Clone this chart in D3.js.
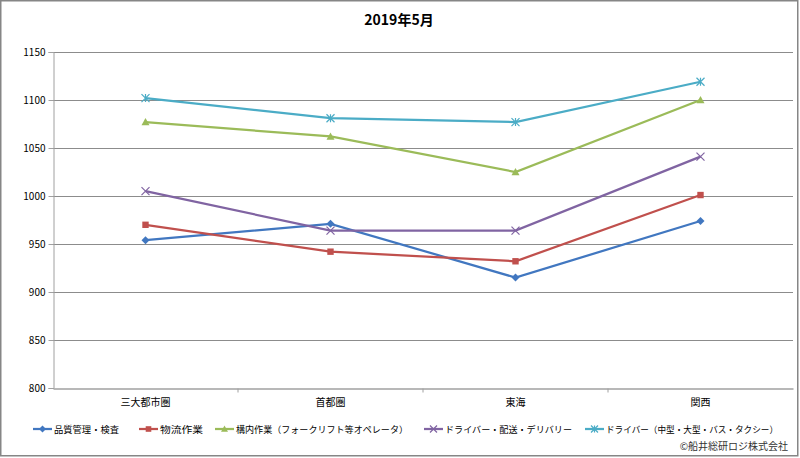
<!DOCTYPE html>
<html>
<head>
<meta charset="utf-8">
<script src="https://cdn.jsdelivr.net/npm/d3@7"></script>
<style>
  body { margin: 0; background: #fff; }
  svg { display: block; }
  text { font-family: "Noto Sans CJK JP", "DejaVu Sans", sans-serif; }
</style>
</head>
<body>
<script>
var w = 800;
var h = 458;

var title = "2019年5月";
var categories = ["三大都市圏", "首都圏", "東海", "関西"];
var seriesNames = ["品質管理・検査", "物流作業", "構内作業（フォークリフト等オペレータ）", "ドライバー・配送・デリバリー", "ドライバー（中型・大型・バス・タクシー）"];
var hinshitsu = [954, 971, 915, 974];
var butsuryu = [970, 942, 932, 1001];
var kounai = [1077, 1062, 1025, 1100];
var haiso = [1005, 964, 964, 1041];
var driver = [1102, 1081, 1077, 1119];
var yTicks = [800, 850, 900, 950, 1000, 1050, 1100, 1150];
var credit = "©船井総研ロジ株式会社";

var colors = ["#4177c0", "#c0504d", "#9bbb59", "#8064a2", "#4bacc6"];
var markers = ["diamond", "square", "triangle", "x", "star"];
var values = [hinshitsu, butsuryu, kounai, haiso, driver];

var margin = { left: 53, right: 7, top: 52, bottom: 70 };

var svg = d3.select("body")
  .append("svg")
  .attr("width", w)
  .attr("height", h);

// frame
svg.append("rect")
  .attr("x", 0.75).attr("y", 0.75)
  .attr("width", w - 3).attr("height", h - 3)
  .attr("fill", "#fff")
  .attr("stroke", "#868686")
  .attr("stroke-width", 1.5);

svg.append("text")
  .text(title)
  .attr("x", 399).attr("y", 25)
  .attr("text-anchor", "middle")
  .attr("font-size", "14px")
  .attr("font-weight", "bold")
  .attr("fill", "#000");

var x = d3.scaleBand()
  .domain(categories)
  .range([margin.left, w - margin.right])
  .padding(0);

var y = d3.scaleLinear()
  .domain([800, 1150])
  .range([388, 52]);

// gridlines
svg.append("g")
  .selectAll("line")
  .data(yTicks.slice(1))
  .enter()
  .append("line")
  .attr("x1", margin.left)
  .attr("x2", 793)
  .attr("y1", function(d) { return Math.round(y(d)) + 0.5; })
  .attr("y2", function(d) { return Math.round(y(d)) + 0.5; })
  .attr("stroke", "#8c8c8c")
  .attr("stroke-width", 1);

// y axis
var yAxis = svg.append("g")
  .attr("transform", "translate(" + (margin.left + 0.5) + ",0)")
  .call(d3.axisLeft(y).tickValues(yTicks).tickFormat(d3.format("d")).tickSize(5).tickPadding(3));
yAxis.select(".domain").attr("stroke", "#a0a0a0");
yAxis.selectAll(".tick line").attr("stroke", "#a0a0a0");
yAxis.selectAll("text")
  .attr("font-family", "Liberation Sans, Arial, sans-serif")
  .attr("font-size", "10px")
  .attr("fill", "#000");

// x axis
var xAxis = svg.append("g")
  .attr("transform", "translate(0," + (Math.round(y(800)) + 0.5) + ")")
  .call(d3.axisBottom(x).tickSize(0).tickPadding(10));
xAxis.select(".domain").attr("stroke", "#a0a0a0").attr("stroke-width", 1.5);
xAxis.selectAll("text")
  .attr("font-size", "10px")
  .attr("fill", "#000");
xAxis.selectAll(".sep")
  .data(categories.slice(1))
  .enter()
  .append("line")
  .attr("class", "sep")
  .attr("x1", function(d) { return x(d); })
  .attr("x2", function(d) { return x(d); })
  .attr("y1", 0).attr("y2", 4)
  .attr("stroke", "#a0a0a0");

function drawMarker(g, type, color, size) {
  var s = size;
  if (type === "diamond") {
    g.append("path").attr("d", "M0," + (-s) + "L" + s + ",0L0," + s + "L" + (-s) + ",0Z").attr("fill", color);
  } else if (type === "square") {
    g.append("rect").attr("x", -s * 0.8).attr("y", -s * 0.8).attr("width", s * 1.6).attr("height", s * 1.6).attr("fill", color);
  } else if (type === "triangle") {
    g.append("path").attr("d", "M0," + (-s) + "L" + s + "," + (s * 0.8) + "L" + (-s) + "," + (s * 0.8) + "Z").attr("fill", color);
  } else if (type === "x") {
    g.append("path").attr("d", "M" + (-s) + "," + (-s) + "L" + s + "," + s + "M" + (-s) + "," + s + "L" + s + "," + (-s))
      .attr("stroke", color).attr("stroke-width", 1.2).attr("fill", "none");
  } else if (type === "star") {
    g.append("path").attr("d", "M" + (-s) + "," + (-s) + "L" + s + "," + s + "M" + (-s) + "," + s + "L" + s + "," + (-s) + "M0," + (-s) + "L0," + s)
      .attr("stroke", color).attr("stroke-width", 1.2).attr("fill", "none");
  }
}

var line = d3.line()
  .x(function(d, i) { return x(categories[i]) + x.bandwidth() / 2; })
  .y(function(d) { return y(d); });

values.forEach(function(vals, si) {
  svg.append("path")
    .datum(vals)
    .attr("d", line)
    .attr("fill", "none")
    .attr("stroke", colors[si])
    .attr("stroke-width", 2.25);
  svg.append("g")
    .selectAll("g")
    .data(vals)
    .enter()
    .append("g")
    .attr("transform", function(d, i) {
      return "translate(" + (x(categories[i]) + x.bandwidth() / 2) + "," + y(d) + ")";
    })
    .each(function() { drawMarker(d3.select(this), markers[si], colors[si], 4); });
});

// legend
var legendX = [33, 139, 215, 424, 585];
var legendW = [65, 43, 172, 127, 172];
var legend = svg.append("g");
seriesNames.forEach(function(name, si) {
  var g = legend.append("g").attr("transform", "translate(" + legendX[si] + ",429)");
  g.append("line").attr("x1", 0).attr("x2", 19).attr("y1", 0).attr("y2", 0)
    .attr("stroke", colors[si]).attr("stroke-width", 2.25);
  var m = g.append("g").attr("transform", "translate(9.5,0)");
  drawMarker(m, markers[si], colors[si], 3.5);
  g.append("text")
    .text(name)
    .attr("x", 21).attr("y", 4)
    .attr("font-size", "9px")
    .attr("textLength", legendW[si])
    .attr("lengthAdjust", "spacingAndGlyphs")
    .attr("fill", "#000");
});

svg.append("text")
  .text(credit)
  .attr("x", 788).attr("y", 450)
  .attr("text-anchor", "end")
  .attr("font-size", "10px")
  .attr("fill", "#333");
</script>
</body>
</html>
